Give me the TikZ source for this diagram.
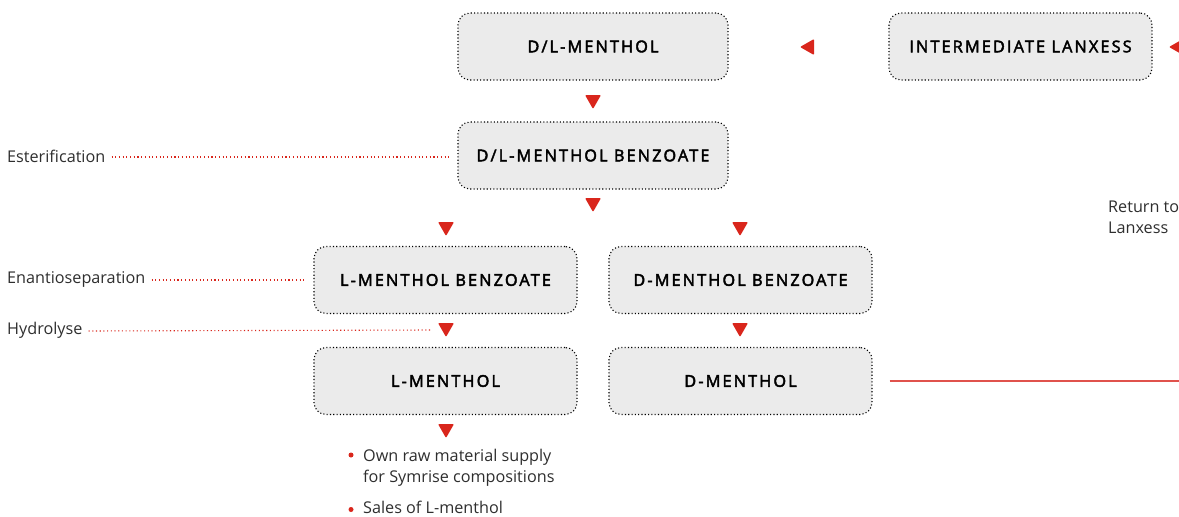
\documentclass[tikz,border=0pt]{standalone}
\usepackage{fontspec}
\setmainfont{Open Sans}
\newfontfamily\boxfont[LetterSpace=13,FakeBold=2.6]{Open Sans}
\definecolor{symred}{HTML}{D9261C}
\definecolor{boxgray}{HTML}{EBEBEB}
\definecolor{linered}{HTML}{E0524C}
\begin{document}
\begin{tikzpicture}[x=1pt,y=-1pt,
  procbox/.style={draw=black, dash pattern=on 1.1pt off 2.2pt, line width=1.1pt, fill=boxgray, rounded corners=12pt,
    minimum width=#1, minimum height=67pt, inner sep=0pt, font=\boxfont\fontsize{16.3}{19}\selectfont},
  procbox/.default=270pt,
  lbl/.style={font=\fontsize{16.2}{21}\selectfont, text=black!82, inner sep=0pt, anchor=west},
  guide/.style={draw=symred, dash pattern=on 1.1pt off 2.6pt, line width=1.1pt},
  downtri/.pic={\fill[symred, rounded corners=1pt] (-8,-7) -- (8,-7) -- (0,7) -- cycle;},
  lefttri/.pic={\fill[symred, rounded corners=1pt] (7,-8) -- (7,8) -- (-7,0) -- cycle;}
]
\useasboundingbox (0,0) rectangle (1179,517);

\node[procbox=270pt] (dl) at (593,46.5) {D/L-MENTHOL};
\node[procbox=263pt] (inter) at (1020.5,46.5) {INTERMEDIATE LANXESS};
\node[procbox=270pt] (dlb) at (593,155.5) {D/L-MENTHOL BENZOATE};
\node[procbox=263pt] (lb) at (445.5,280) {L-MENTHOL BENZOATE};
\node[procbox=263pt] (db) at (740.5,280) {D-MENTHOL BENZOATE};
\node[procbox=263pt] (lm) at (445.5,381) {L-MENTHOL};
\node[procbox=263pt] (dm) at (740.5,381) {D-MENTHOL};

\pic at (593,102) {downtri};
\pic at (593,205) {downtri};
\pic at (446,229) {downtri};
\pic at (740,229) {downtri};
\pic at (446,330) {downtri};
\pic at (740,330) {downtri};
\pic at (446,431) {downtri};
\pic at (807,47) {lefttri};
\pic at (1176,47) {lefttri};

\node[lbl] (est) at (7,156) {Esterification};
\node[lbl] (ena) at (7,279) {Enantioseparation};
\node[lbl] (hyd) at (7,330) {Hydrolyse};
\coordinate (hydend) at (431,330);
\draw[guide] ([xshift=6pt,yshift=-1pt]est.east) -- ([xshift=-7pt]dlb.west |- 0,157);
\draw[guide] ([xshift=6pt,yshift=-1pt]ena.east) -- ([xshift=-7pt]lb.west);
\draw[guide] ([xshift=6pt,yshift=-1pt]hyd.east) -- (hydend);

\node[lbl, align=left, anchor=north west] (ret) at (1108,201) {Return to\\Lanxess};
\coordinate (retend) at (1179,381);
\draw[linered, line width=1.1pt] ([xshift=17pt]dm.east) -- (retend);

\node[lbl, align=left, anchor=north west] (b1) at (363,449) {Own raw material supply\\for Symrise compositions};
\node[lbl, anchor=north west] (b2) at (363,500.5) {Sales of L-menthol};
\fill[symred] (351,455) circle (2.5pt);
\fill[symred] (351,509.5) circle (2.5pt);
\end{tikzpicture}
\end{document}
